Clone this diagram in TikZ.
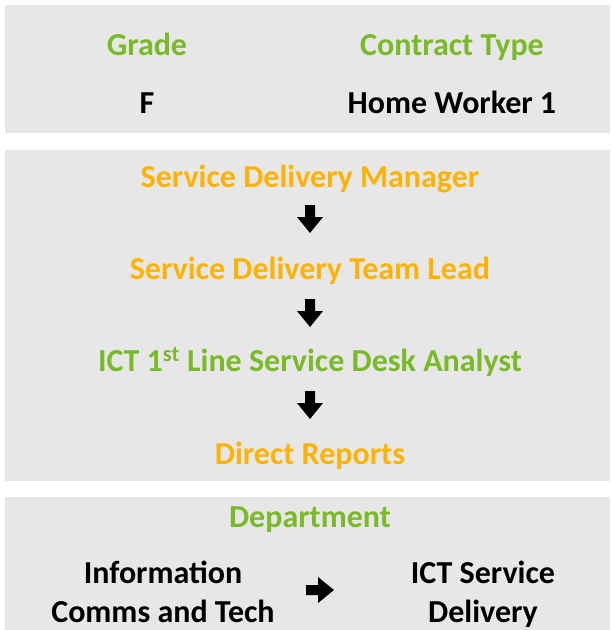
\documentclass[tikz,border=0pt]{standalone}
\usepackage{fontspec}
\setmainfont{Carlito}
\usetikzlibrary{calc}
\definecolor{pgray}{HTML}{E7E7E7}
\definecolor{lgreen}{HTML}{7AB929}
\definecolor{lorange}{HTML}{FFB300}
\begin{document}
\begin{tikzpicture}[x=1pt,y=-1pt,
  panel/.style={fill=pgray,draw=none},
  lbl/.style={font=\fontsize{32}{39}\selectfont\bfseries,inner sep=0pt,anchor=base},
  grn/.style={lbl,text=lgreen},
  org/.style={lbl,text=lorange},
  blk/.style={lbl,text=black,align=center},
  darrow/.style={fill=black,draw=none}]
\useasboundingbox (0,0) rectangle (611,630);
\fill[white] (0,0) rectangle (611,630);
\path[panel] (5,5) rectangle (610,133);
\path[panel] (5,150) rectangle (610,481);
\path[panel] (5,497) rectangle (610,630);
% panel 1
\node[grn] (grade) at (147,55) {Grade};
\node[grn] (ctype) at (452,55) {Contract Type};
\node[blk] (gval) at (147,113) {F};
\node[blk] (cval) at (452,113) {Home Worker 1};
% panel 2
\node[org] (sdm) at (310,187) {Service Delivery Manager};
\node[org] (sdtl) at (310,279) {Service Delivery Team Lead};
\node[grn] (ict) at (310,371) {ICT 1\textsuperscript{st} Line Service Desk Analyst};
\node[org] (dr) at (310,464) {Direct Reports};
\foreach \yy/\nm in {219/a1,313/a2,405/a3}{
  \coordinate (\nm) at (310,\yy);
  \fill[darrow] ($(\nm)+(-5,-14)$) -- ++(10,0) -- ++(0,12) -- ++(8,0) -- ($(\nm)+(0,14)$) -- ($(\nm)+(-13,-2)$) -- ++(8,0) -- cycle;
}
% panel 3
\node[grn] (dept) at (310,527) {Department};
\node[blk] (from) at (163,622) {Information\\Comms and Tech};
\node[blk] (to) at (483,622) {ICT Service\\Delivery};
\coordinate (ra) at (320,590);
\fill[darrow] ($(ra)+(-14,-5)$) -- ++(12,0) -- ++(0,-8) -- ($(ra)+(14,0)$) -- ($(ra)+(-2,13)$) -- ++(0,-8) -- ++(-12,0) -- cycle;
\end{tikzpicture}
\end{document}
